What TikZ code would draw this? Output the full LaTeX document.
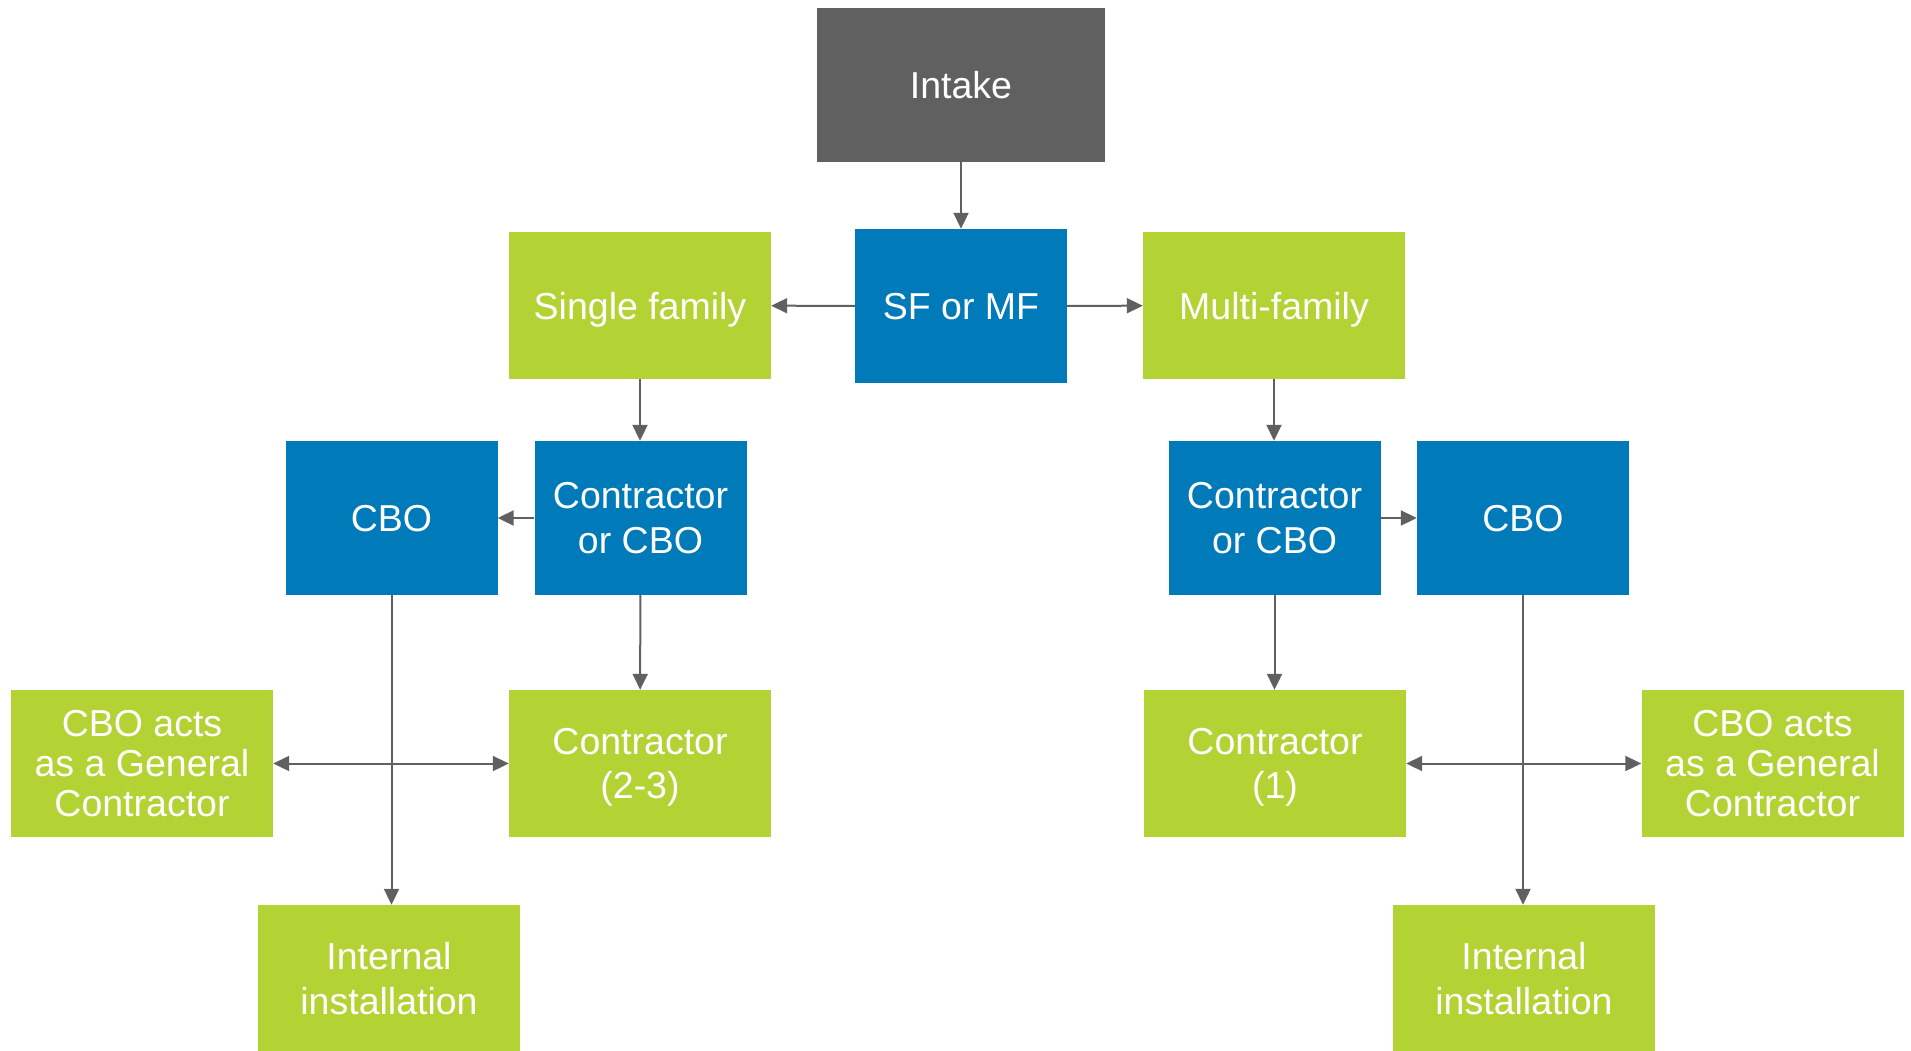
\documentclass[tikz,border=0pt]{standalone}
\usepackage{fontspec}
\setmainfont{Liberation Sans}
\usepackage{tikz}
\usetikzlibrary{arrows.meta}
\definecolor{dark}{HTML}{606060}
\definecolor{ocean}{HTML}{007AB8}
\definecolor{lime}{HTML}{B3D335}
\definecolor{wire}{HTML}{606060}
\tikzset{
  box/.style={rectangle, draw=none, text=white, align=center, inner sep=0pt,
    text depth=0pt, font=\fontsize{37.5}{44.5}\selectfont},
  grey/.style={box, fill=dark, minimum width=288pt, minimum height=154pt},
  blue/.style={box, fill=ocean, minimum width=212pt, minimum height=154pt},
  green/.style={box, fill=lime, minimum width=262pt, minimum height=147pt},
  tight/.style={green, font=\fontsize{37.5}{40}\selectfont},
  arr/.style={draw=wire, line width=2pt, -{Triangle[length=16pt,width=15pt]}},
  dbl/.style={draw=wire, line width=2pt, {Triangle[length=16pt,width=15pt]}-{Triangle[length=16pt,width=15pt]}},
}
\begin{document}
\begin{tikzpicture}[x=1pt,y=-1pt]
  \useasboundingbox (0,0) rectangle (1911,1050);
  % top
  \node[grey] (intake) at (961,85) {Intake};
  \node[blue] (sfmf) at (961,306) {SF or MF};
  \node[green] (single) at (640,305.5) {Single family};
  \node[green] (multi) at (1274,305.5) {Multi-family};
  % single family side
  \node[blue] (cboL) at (391.5,518) {CBO};
  \node[blue] (orL) at (640.5,518) {Contractor\\or CBO};
  \node[tight] (actsL) at (142,763.5) {CBO acts\\as a General\\Contractor};
  \node[green] (twoL) at (640,763.5) {Contractor\\(2-3)};
  \node[green] (intL) at (389,978.5) {Internal\\installation};
  % multi-family side
  \node[blue] (orR) at (1274.5,518) {Contractor\\or CBO};
  \node[blue] (cboR) at (1523,518) {CBO};
  \node[green] (oneR) at (1275,763.5) {Contractor\\(1)};
  \node[tight] (actsR) at (1772.5,763.5) {CBO acts\\as a General\\Contractor};
  \node[green] (intR) at (1524,978.5) {Internal\\installation};

  \draw[arr] (intake) -- (sfmf);
  \draw[arr] (sfmf) -- (single);
  \draw[arr] (sfmf) -- (multi);
  \draw[arr] (single.south) -- (single.south |- orL.north);
  \draw[arr] (multi.south) -- (multi.south |- orR.north);
  \draw[arr] (orL) -- (cboL);
  \draw[arr] (orR) -- (cboR);
  \draw[arr] (orL) -- (twoL);
  \draw[arr] (orR.south) -- (orR.south |- oneR.north);
  \draw[arr] (cboL.south) -- (cboL.south |- intL.north);
  \draw[arr] (cboR.south) -- (cboR.south |- intR.north);
  \draw[dbl] (actsL) -- (twoL);
  \draw[dbl] (oneR) -- (actsR);
\end{tikzpicture}
\end{document}
